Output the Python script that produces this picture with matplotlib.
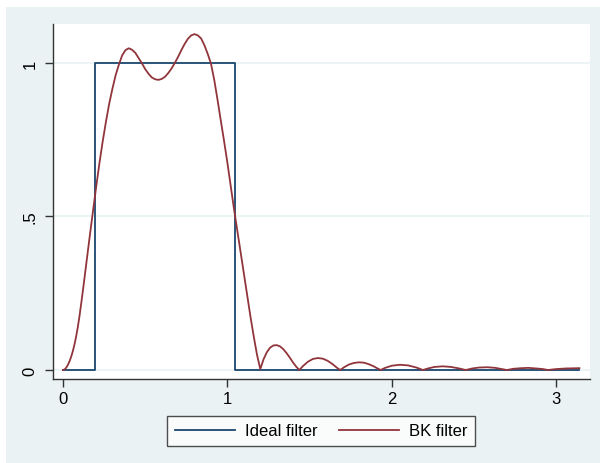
import matplotlib
matplotlib.use("Agg")
import matplotlib.pyplot as plt
from matplotlib.patches import Rectangle

plt.rcParams['font.family'] = ['Liberation Sans', 'DejaVu Sans']

# Ideal band-pass filter (gain steps at the cut-off frequencies)
ideal_freq = [0.0, 0.196, 1.047, 3.1416]
ideal_gain = [0.0, 1.0, 0.0, 0.0]

# Baxter-King filter gain
bk_freq = [0.00, 0.01, 0.02, 0.03, 0.04, 0.05, 0.06, 0.07, 0.08, 0.09,
           0.10, 0.11, 0.12, 0.13, 0.14, 0.16, 0.18,
           0.20, 0.22, 0.24, 0.26, 0.28, 0.30, 0.32, 0.34, 0.36, 0.38,
           0.40, 0.42, 0.44, 0.46, 0.48, 0.50, 0.52, 0.54, 0.56, 0.58,
           0.60, 0.62, 0.64, 0.66, 0.68, 0.70, 0.72, 0.74, 0.76, 0.78,
           0.80, 0.82, 0.84, 0.86, 0.88, 0.90, 0.92, 0.94, 0.96, 0.98,
           1.00, 1.02, 1.04, 1.06, 1.08, 1.10, 1.12, 1.14, 1.16, 1.18,
           1.20, 1.22, 1.24, 1.26, 1.28, 1.30, 1.32, 1.34, 1.36, 1.38,
           1.40, 1.42, 1.438, 1.46, 1.49, 1.52, 1.55, 1.58, 1.61, 1.64,
           1.665, 1.686, 1.71, 1.74, 1.77, 1.80, 1.83, 1.86, 1.89, 1.91,
           1.932, 1.96, 2.00, 2.05, 2.10, 2.15, 2.19, 2.22, 2.26, 2.31,
           2.36, 2.41, 2.45, 2.49, 2.53, 2.58, 2.63, 2.67, 2.70, 2.74,
           2.79, 2.83, 2.88, 2.92, 2.95, 3.00, 3.06, 3.1416]
bk_gain = [0.000, 0.002, 0.008, 0.017, 0.029, 0.044, 0.062, 0.084, 0.110, 0.140,
           0.175, 0.214, 0.255, 0.297, 0.340, 0.425, 0.508,
           0.590, 0.668, 0.740, 0.805, 0.865, 0.915, 0.960, 0.995, 1.025, 1.042,
           1.048, 1.043, 1.033, 1.016, 0.999, 0.980, 0.965, 0.953, 0.947, 0.945,
           0.948, 0.955, 0.967, 0.982, 1.000, 1.020, 1.042, 1.062, 1.079, 1.090,
           1.094, 1.090, 1.080, 1.058, 1.030, 0.998, 0.945, 0.880, 0.812, 0.745,
           0.675, 0.600, 0.525, 0.455, 0.385, 0.315, 0.245, 0.175, 0.110, 0.050,
           0.003, 0.035, 0.058, 0.073, 0.080, 0.081, 0.077, 0.068, 0.055, 0.040,
           0.024, 0.010, 0.000, 0.013, 0.027, 0.036, 0.039, 0.037, 0.030, 0.019,
           0.008, 0.000, 0.009, 0.018, 0.023, 0.025, 0.024, 0.019, 0.012, 0.006,
           0.000, 0.007, 0.014, 0.017, 0.015, 0.008, 0.000, 0.005, 0.010, 0.012,
           0.010, 0.005, 0.000, 0.005, 0.008, 0.009, 0.007, 0.003, 0.000, 0.004,
           0.006, 0.007, 0.005, 0.003, 0.000, 0.003, 0.005, 0.006]

x_ticks = [0, 1, 2, 3]
x_tick_labels = ['0', '1', '2', '3']
y_ticks = [0, 0.5, 1]
y_tick_labels = ['0', '.5', '1']
series_labels = ['Ideal filter', 'BK filter']

navy = '#1a476f'
maroon = '#90353b'
bg = '#eaf2f3'

W, H = 600, 464
fig = plt.figure(figsize=(6.0, 4.64), dpi=100, facecolor='white')
fig.patches.append(Rectangle((6 / W, 0), 1 - 6 / W, 1 - 8 / H,
                             transform=fig.transFigure, facecolor=bg,
                             edgecolor='none', zorder=-10))

ax = fig.add_axes([53 / W, (H - 380) / H, (590 - 53) / W, (380 - 25) / H])
ax.set_facecolor('white')

for yv in y_ticks:
    ax.axhline(yv, color=bg, lw=1.2, zorder=0)

ax.plot(ideal_freq, ideal_gain, drawstyle='steps-post', color=navy, lw=1.3,
        label=series_labels[0], zorder=2)
ax.plot(bk_freq, bk_gain, color=maroon, lw=1.3, label=series_labels[1], zorder=3)

ax.set_xlim(-0.061, 3.206)
ax.set_ylim(-0.0293, 1.127)

ax.set_xticks(x_ticks)
ax.set_xticklabels(x_tick_labels)
ax.set_yticks(y_ticks)
ax.set_yticklabels(y_tick_labels, rotation=90, va='center')

for s in ['top', 'right']:
    ax.spines[s].set_visible(False)
for s in ['left', 'bottom']:
    ax.spines[s].set_color('#333333')
    ax.spines[s].set_linewidth(1.0)

ax.tick_params(axis='both', direction='out', length=6, width=1.0,
               color='#333333', labelsize=12, labelcolor='black')
ax.tick_params(axis='x', pad=3)
ax.tick_params(axis='y', pad=5)

leg = fig.legend(loc='center', bbox_to_anchor=(321 / W, 1 - 432 / H), ncol=2,
                 frameon=True, fancybox=False, edgecolor='#222222',
                 fontsize=12, handlelength=3.6, handletextpad=0.6,
                 columnspacing=1.3, borderpad=0.45, borderaxespad=0)
leg.get_frame().set_linewidth(1.0)
leg.get_frame().set_facecolor('white')

fig.savefig('out.png', dpi=100, facecolor=fig.get_facecolor())
